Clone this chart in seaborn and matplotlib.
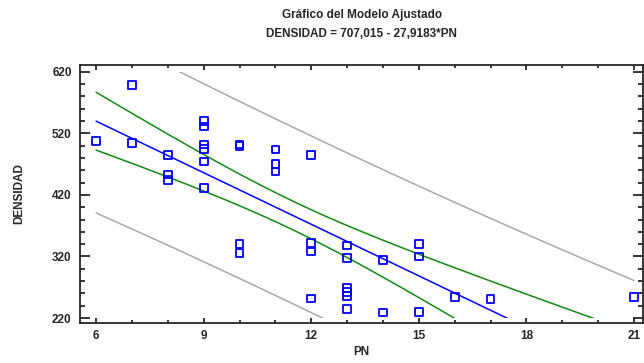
import numpy as np
import pandas as pd
import matplotlib
matplotlib.use("Agg")
import matplotlib.pyplot as plt
import seaborn as sns
from matplotlib.patches import Rectangle
from matplotlib.ticker import MultipleLocator

# data
pn = [6, 7, 7, 8, 8, 8, 9, 9, 9, 9, 9, 9, 10, 10, 10, 10, 11, 11, 11,
      12, 12, 12, 12, 13, 13, 13, 13, 13, 13, 14, 14, 15, 15, 15, 16, 17, 21]
densidad = [508, 599, 504, 485, 453, 444, 540, 531, 502, 495, 474, 431,
            502, 499, 340, 326, 494, 470, 458, 485, 342, 328, 252,
            338, 318, 269, 262, 256, 235, 314, 229, 340, 320, 230, 254, 251, 254]
t_95 = 2.0301  # t(0.975, df=35)

df = pd.DataFrame({"PN": pn, "DENSIDAD": densidad})

# least squares fit + 95% confidence and prediction limits
x = df["PN"].to_numpy(float)
y = df["DENSIDAD"].to_numpy(float)
n = len(x)
b1, b0 = np.polyfit(x, y, 1)
resid = y - (b0 + b1 * x)
s = np.sqrt(np.sum(resid ** 2) / (n - 2))
sxx = np.sum((x - x.mean()) ** 2)

xg = np.linspace(x.min(), x.max(), 300)
yg = b0 + b1 * xg
se_conf = s * np.sqrt(1 / n + (xg - x.mean()) ** 2 / sxx)
se_pred = s * np.sqrt(1 + 1 / n + (xg - x.mean()) ** 2 / sxx)
fit = pd.DataFrame({"PN": xg, "fit": yg,
                    "cl_lo": yg - t_95 * se_conf, "cl_hi": yg + t_95 * se_conf,
                    "pl_lo": yg - t_95 * se_pred, "pl_hi": yg + t_95 * se_pred})

sns.set_style("ticks")
plt.rcParams["font.family"] = ["Liberation Sans", "DejaVu Sans"]
plt.rcParams["font.weight"] = "bold"

fig = plt.figure(figsize=(6.44, 3.63), dpi=100)
ax = fig.add_axes([80 / 644, 1 - 323 / 363, 563 / 644, (323 - 65) / 363])

for col in ["pl_lo", "pl_hi"]:
    sns.lineplot(data=fit, x="PN", y=col, ax=ax, color="#a8a8a8", lw=1.1)
for col in ["cl_lo", "cl_hi"]:
    sns.lineplot(data=fit, x="PN", y=col, ax=ax, color="#138a13", lw=1.1)
sns.lineplot(data=fit, x="PN", y="fit", ax=ax, color="#0000ff", lw=1.1)
# curves are only drawn inside the 220..620 scale
for ln in ax.lines:
    ln.set_clip_path(Rectangle((0, 220), 30, 400, transform=ax.transData))
sns.scatterplot(data=df, x="PN", y="DENSIDAD", ax=ax, marker="s", s=30,
                facecolor="none", edgecolor="#0000ff", linewidth=1.3, zorder=5)

ax.set_xlim(5.55, 21.25)
ax.set_ylim(212, 631)
ax.set_xticks([6, 9, 12, 15, 18, 21])
ax.set_yticks([220, 320, 420, 520, 620])
ax.xaxis.set_minor_locator(MultipleLocator(1))
ax.yaxis.set_minor_locator(MultipleLocator(20))
ax.tick_params(axis="x", which="both", direction="in", top=True, labelsize=8.5,
               width=1.3, pad=5)
ax.tick_params(axis="x", which="major", length=3.3)
ax.tick_params(axis="x", which="minor", length=2)
ax.tick_params(axis="y", which="both", direction="in", right=True, labelsize=8.5,
               width=1.3, pad=6)
ax.tick_params(axis="y", which="major", length=7)
ax.tick_params(axis="y", which="minor", length=3.5)
for sp in ax.spines.values():
    sp.set_linewidth(1.3)

ax.set_xlabel("PN", fontsize=8.5, fontweight="bold", labelpad=3)
ax.set_ylabel("DENSIDAD", fontsize=8.5, fontweight="bold", labelpad=19)
fig.text(0.562, 1 - 18 / 363, "Gráfico del Modelo Ajustado", ha="center",
         va="baseline", fontsize=8.5, fontweight="bold")
fig.text(0.562, 1 - 37 / 363, "DENSIDAD = 707,015 - 27,9183*PN", ha="center",
         va="baseline", fontsize=8.5, fontweight="bold")

fig.savefig("out.png", dpi=100)
